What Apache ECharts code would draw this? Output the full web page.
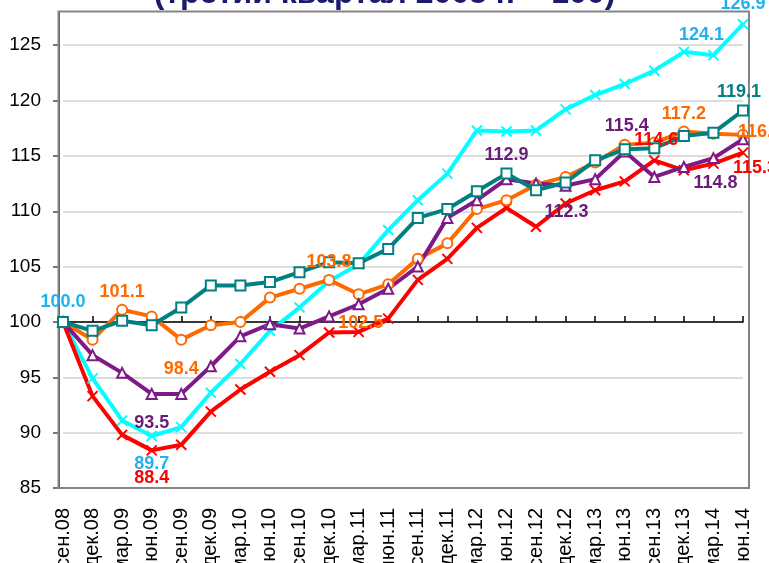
<!DOCTYPE html>
<html lang="ru">
  <head>
    <meta charset="UTF-8" />
    <title>Индексы</title>
    <style>
      body {
        margin: 0;
        background: #fff;
      }
      #chart {
        width: 769px;
        height: 563px;
      }
    </style>
  </head>
  <body>
    <div id="chart"></div>
    <script src="https://cdn.jsdelivr.net/npm/echarts@6/dist/echarts.min.js"></script>
    <script>
      const titleText = "(третий квартал 2008 г. = 100)";

      const categories = [
        "сен.08", "дек.08", "мар.09", "июн.09", "сен.09", "дек.09",
        "мар.10", "июн.10", "сен.10", "дек.10", "мар.11", "июн.11",
        "сен.11", "дек.11", "мар.12", "июн.12", "сен.12", "дек.12",
        "мар.13", "июн.13", "сен.13", "дек.13", "мар.14", "июн.14",
      ];
      const yTicks = [85, 90, 95, 100, 105, 110, 115, 120, 125];

      const cyanValues = [
        100.0, 94.9, 91.1, 89.7, 90.5, 93.6, 96.2, 99.2, 101.3, 103.7, 105.2, 108.3,
        111.0, 113.4, 117.3, 117.2, 117.3, 119.2, 120.5, 121.5, 122.7, 124.4, 124.1, 126.9,
      ];
      const tealValues = [
        100.0, 99.2, 100.1, 99.7, 101.3, 103.3, 103.3, 103.6, 104.5, 105.4, 105.3, 106.6,
        109.4, 110.2, 111.8, 113.4, 111.9, 112.6, 114.6, 115.6, 115.7, 116.8, 117.1, 119.1,
      ];
      const orangeValues = [
        100.0, 98.4, 101.1, 100.5, 98.4, 99.7, 100.0, 102.2, 103.0, 103.8, 102.5, 103.4,
        105.7, 107.1, 110.2, 111.0, 112.4, 113.1, 114.4, 116.0, 116.2, 117.2, 117.0, 116.9,
      ];
      const purpleValues = [
        100.0, 97.0, 95.4, 93.5, 93.5, 96.0, 98.7, 99.8, 99.4, 100.5, 101.6, 103.0,
        105.0, 109.4, 111.0, 112.9, 112.5, 112.3, 112.9, 115.4, 113.1, 114.0, 114.8, 116.5,
      ];
      const redValues = [
        100.0, 93.3, 89.8, 88.4, 88.9, 91.9, 93.9, 95.5, 97.0, 99.05, 99.1, 100.3,
        103.8, 105.7, 108.5, 110.3, 108.6, 110.7, 111.9, 112.7, 114.6, 113.7, 114.3, 115.3,
      ];

      // which points carry a value label: index -> [position, dx, dy]
      const cyanLabels = { 0: ["top", 0, 0], 3: ["bottom", 0, 8], 22: ["top", -12, 0], 23: ["top", 0, 0] };
      const tealLabels = { 23: ["top", -4, 2] };
      const orangeLabels = {
        2: ["top", 0, 2], 4: ["bottom", 0, 9], 9: ["top", 0, 2],
        10: ["bottom", 2, 9], 21: ["top", 0, 2], 23: ["right", -16, -3],
      };
      const purpleLabels = {
        3: ["bottom", 0, 9], 15: ["top", 0, -4], 17: ["bottom", 1, 6],
        19: ["top", 2, -5], 22: ["bottom", 2, 5],
      };
      const redLabels = { 3: ["bottom", 0, 8], 20: ["top", 2, 0], 23: ["bottom", 12, -5] };

      const labelFont = "'Liberation Sans', Arial, sans-serif";
      const crossPath = "path://M0,0L10,10M0,10L10,0";

      function buildData(values, labels, textColor) {
        return values.map((v, i) => {
          const spec = labels[i];
          if (!spec) return v;
          return {
            value: v,
            label: {
              show: true,
              position: spec[0],
              offset: [spec[1], spec[2]],
              color: textColor,
              fontFamily: labelFont,
              fontWeight: "bold",
              fontSize: 18,
              formatter: (p) => p.value.toFixed(1),
            },
          };
        });
      }

      function lineSeries(name, values, labels, lineColor, textColor, symbol, markerFill) {
        return {
          name: name,
          type: "line",
          data: buildData(values, labels, textColor),
          symbol: symbol,
          symbolSize: 10,
          showAllSymbol: true,
          lineStyle: { color: lineColor, width: 4 },
          itemStyle: {
            color: markerFill,
            borderColor: lineColor,
            borderWidth: 2,
          },
          emphasis: { disabled: true },
          animation: false,
        };
      }

      const chart = echarts.init(document.getElementById("chart"));
      chart.setOption({
        animation: false,
        grid: { left: 63, right: 26, top: 12, bottom: 75, outerBoundsMode: "none", containLabel: false },
        graphic: [
          {
            type: "rect",
            silent: true,
            z: 1,
            shape: { x: 58.5, y: 11.5, width: 690.5, height: 476.5 },
            style: { fill: "none", stroke: "#858585", lineWidth: 2 },
          },
          {
            type: "text",
            left: "center",
            top: -22,
            silent: true,
            style: {
              text: titleText,
              font: "bold 32px Arial, 'Liberation Sans', sans-serif",
              fill: "#1B1B6E",
              shadowColor: "rgba(0,0,0,0.3)",
              shadowBlur: 2,
              shadowOffsetX: 1,
              shadowOffsetY: 1,
            },
          },
        ],
        xAxis: [
          {
            type: "category",
            data: categories,
            boundaryGap: false,
            axisLine: { show: false, onZero: false },
            axisTick: { show: false },
            axisLabel: {
              rotate: 90,
              margin: 20,
              color: "#000",
              fontSize: 20,
              fontFamily: "Arial, 'Liberation Sans', sans-serif",
              interval: 0,
            },
            splitLine: { show: false },
          },
          {
            type: "category",
            data: categories,
            boundaryGap: false,
            axisLine: {
              show: true,
              onZero: true,
              onZeroAxisIndex: 1,
              lineStyle: { color: "#000", width: 1.5 },
            },
            axisTick: { show: true, length: 6, interval: 0, lineStyle: { color: "#000", width: 1.5 } },
            axisLabel: { show: false },
            splitLine: { show: false },
          },
        ],
        yAxis: [
          {
            type: "value",
            min: 85,
            max: 128,
            interval: 5,
            offset: 4,
            axisLine: { show: true, lineStyle: { color: "#4a4a4a", width: 2 } },
            axisTick: { show: true, length: 6, customValues: yTicks, lineStyle: { color: "#4a4a4a", width: 1.5 } },
            axisLabel: {
              customValues: yTicks,
              color: "#000",
              fontSize: 19,
              margin: 18,
              fontFamily: "Arial, 'Liberation Sans', sans-serif",
            },
            splitLine: { show: true, lineStyle: { color: "#d2d2d2", width: 1.5 } },
          },
          {
            // hidden helper axis, shifted by 100, so the category line sits at 100
            type: "value",
            min: 85 - 100,
            max: 128 - 100,
            show: false,
          },
        ],
        series: [
          lineSeries("cyan", cyanValues, cyanLabels, "#00ffff", "#1fb2ee", crossPath, "transparent"),
          lineSeries("red", redValues, redLabels, "#ff0000", "#ff0000", crossPath, "transparent"),
          lineSeries("orange", orangeValues, orangeLabels, "#ff6a00", "#ff6a00", "circle", "#ffffff"),
          lineSeries("purple", purpleValues, purpleLabels, "#7d1a88", "#6a1d76", "triangle", "#ffffff"),
          lineSeries("teal", tealValues, tealLabels, "#008080", "#008080", "rect", "#ffffff"),
        ],
      });
    </script>
  </body>
</html>
